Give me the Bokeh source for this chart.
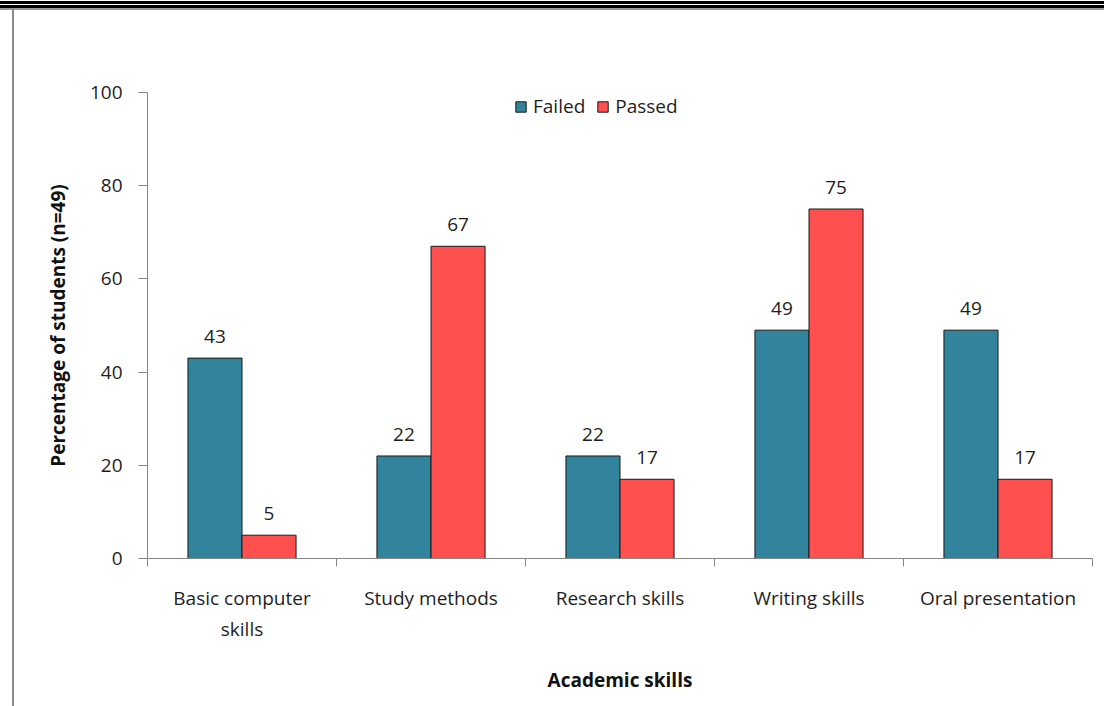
import numpy as np
from bokeh.plotting import figure
from bokeh.models import (ColumnDataSource, Range1d, FixedTicker, LabelSet, Legend,
                          LegendItem, InlineStyleSheet)
from bokeh.core.properties import value
from bokeh.transform import dodge
from bokeh.embed import file_html
from bokeh.resources import INLINE

categories = ["Basic computer\nskills", "Study methods", "Research skills",
              "Writing skills", "Oral presentation"]
failed = [43, 22, 22, 49, 49]
passed = [5, 67, 17, 75, 17]
y_ticks = [0, 20, 40, 60, 80, 100]

FONT = "Open Sans"
FS = "19px"
TEAL = "#31849B"
RED = "#FF4F4F"
TXT = "#1e1e1e"

pos = np.arange(len(categories)) + 0.5
src = ColumnDataSource(dict(x=pos, failed=failed, passed=passed,
                            flab=[str(v) for v in failed],
                            plab=[str(v) for v in passed]))

css = """
:host { position: relative; }
:host::before { content: ""; position: absolute; left: 0; top: 0; width: 1104px; height: 10px;
  z-index: 10; pointer-events: none;
  background: linear-gradient(to bottom, transparent 0px, transparent 1px, #000 1px, #000 4px,
    transparent 4px, transparent 5.5px, #000 5.5px, #000 8px, #9a9a9a 8px, #9a9a9a 10px); }
:host::after { content: ""; position: absolute; left: 11.5px; top: 8px; width: 2.5px; height: 698px;
  background: #8a8a8a; z-index: 10; pointer-events: none; }
"""

p = figure(width=1104, height=706, output_backend="svg", toolbar_location=None,
           x_range=Range1d(0, len(categories)), y_range=Range1d(0, 100),
           min_border_left=147, min_border_right=12, min_border_top=92,
           min_border_bottom=148, stylesheets=[InlineStyleSheet(css=css)])
p.frame_width = 945
p.frame_height = 466
p.outline_line_color = None
p.grid.grid_line_color = None
p.background_fill_color = "white"
p.border_fill_color = "white"

bw = 0.286
r1 = p.vbar(x=dodge("x", -bw / 2, range=p.x_range), top="failed", width=bw, source=src,
            fill_color=TEAL, line_color="#1a1a1a", line_width=1)
r2 = p.vbar(x=dodge("x", bw / 2, range=p.x_range), top="passed", width=bw, source=src,
            fill_color=RED, line_color="#1a1a1a", line_width=1)

for col, lab, dx in (("failed", "flab", -bw / 2), ("passed", "plab", bw / 2)):
    p.add_layout(LabelSet(x=dodge("x", dx, range=p.x_range), y=col, text=lab, source=src,
                          text_align="center", text_baseline="alphabetic", y_offset=15,
                          text_font=value(FONT), text_font_size=value(FS),
                          text_color=TXT))

# axes
ya = p.yaxis[0]
ya.ticker = FixedTicker(ticks=y_ticks)
ya.axis_line_color = "#868686"
ya.major_tick_line_color = "#868686"
ya.major_tick_out = 9
ya.major_tick_in = 0
ya.minor_tick_line_color = None
ya.major_label_standoff = 16
ya.major_label_text_font = FONT
ya.major_label_text_font_size = FS
ya.major_label_text_color = TXT
ya.axis_label = "Percentage of students (n=49)"
ya.axis_label_text_font = FONT
ya.axis_label_text_font_size = FS
ya.axis_label_text_font_style = "bold"
ya.axis_label_text_color = "#111111"
ya.axis_label_standoff = 16

xa = p.xaxis[0]
xa.ticker = FixedTicker(ticks=list(pos), minor_ticks=list(range(len(categories) + 1)))
xa.major_label_overrides = {float(x): c for x, c in zip(pos, categories)}
xa.axis_line_color = "#868686"
xa.major_tick_line_color = None
xa.minor_tick_line_color = "#868686"
xa.minor_tick_out = 8
xa.minor_tick_in = 0
xa.major_tick_out = 0
xa.major_tick_in = 0
xa.major_label_standoff = 18
xa.major_label_text_font = FONT
xa.major_label_text_font_size = FS
xa.major_label_text_color = TXT
xa.axis_label = "Academic skills"
xa.axis_label_text_font = FONT
xa.axis_label_text_font_size = FS
xa.axis_label_text_font_style = "bold"
xa.axis_label_text_color = "#111111"
xa.axis_label_standoff = 22

legend = Legend(items=[LegendItem(label="Failed", renderers=[r1]),
                       LegendItem(label="Passed", renderers=[r2])],
                orientation="horizontal", location=(367, 439),
                border_line_color=None, background_fill_alpha=0,
                padding=4, margin=0, spacing=11, label_standoff=6,
                glyph_width=13, glyph_height=13, label_height=22,
                label_text_font=FONT, label_text_font_size=FS,
                label_text_color=TXT)
p.add_layout(legend, "center")

open("out.html", "w").write(file_html(p, INLINE))
